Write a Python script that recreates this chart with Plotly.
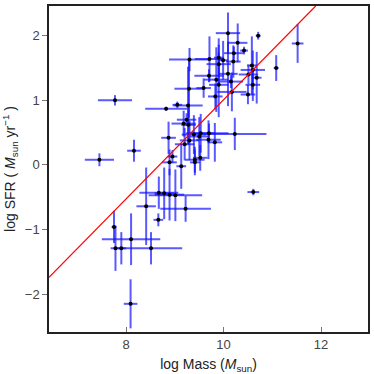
import plotly.graph_objects as go

log_mass = [10.09, 10.71, 10.29, 10.42, 10.21, 11.52, 9.30, 9.71, 9.90, 9.99,
            10.20, 9.90, 10.58, 10.60, 11.08, 9.70, 10.09, 10.51, 9.85, 10.15,
            10.68, 9.90, 10.60, 9.29, 9.59, 9.83, 10.17, 10.50, 9.05, 9.27,
            8.82, 9.24, 9.18, 9.28, 8.87, 9.39, 9.53, 9.70, 10.23, 9.20,
            9.30, 9.50, 9.69, 9.82, 8.16, 8.95, 8.89, 9.41, 9.52, 9.41,
            9.13, 8.67, 8.78, 8.89, 9.01, 8.41, 9.22, 10.61, 7.45, 8.66,
            7.75, 7.77, 7.78, 7.90, 8.10, 8.51, 8.09]
log_sfr = [2.04, 2.00, 1.89, 1.77, 1.73, 1.88, 1.63, 1.64, 1.66, 1.62,
           1.60, 1.56, 1.54, 1.47, 1.50, 1.38, 1.41, 1.40, 1.32, 1.29,
           1.35, 1.24, 1.24, 1.18, 1.19, 1.06, 1.13, 1.09, 0.93, 0.92,
           0.87, 0.70, 0.64, 0.62, 0.42, 0.47, 0.49, 0.49, 0.48, 0.32,
           0.38, 0.44, 0.39, 0.35, 0.22, 0.13, 0.04, 0.08, 0.11, 0.04,
           -0.02, -0.43, -0.44, -0.46, -0.47, -0.64, -0.68, -0.42, 0.08, -0.85,
           -0.96, 1.00, -1.29, -1.29, -1.15, -1.29, -2.15]
mass_err = [0.25, 0.05, 0.20, 0.08, 0.20, 0.12, 0.42, 0.30, 0.10, 0.10,
            0.15, 0.25, 0.10, 0.25, 0.05, 0.30, 0.20, 0.20, 0.25, 0.25,
            0.10, 0.20, 0.15, 0.30, 0.15, 0.15, 0.30, 0.15, 0.10, 0.30,
            0.43, 0.20, 0.25, 0.15, 0.15, 0.25, 0.30, 0.40, 0.65, 0.20,
            0.20, 0.20, 0.25, 0.15, 0.14, 0.10, 0.15, 0.20, 0.15, 0.10,
            0.10, 0.40, 0.20, 0.30, 0.55, 0.20, 0.52, 0.12, 0.30, 0.10,
            0.05, 0.35, 0.10, 0.10, 0.60, 0.64, 0.14]
sfr_err = [0.32, 0.06, 0.30, 0.06, 0.10, 0.30, 0.18, 0.35, 0.30, 0.30,
           0.25, 0.30, 0.45, 0.30, 0.20, 0.10, 0.50, 0.15, 0.50, 0.10,
           0.40, 0.50, 0.25, 0.45, 0.15, 0.20, 0.30, 0.15, 0.05, 0.60,
           0.03, 0.10, 0.20, 0.30, 0.25, 0.30, 0.30, 0.15, 0.25, 0.25,
           0.30, 0.30, 0.30, 0.30, 0.17, 0.10, 0.20, 0.20, 0.20, 0.20,
           0.35, 0.25, 0.40, 0.40, 0.40, 0.60, 0.20, 0.05, 0.10, 0.10,
           0.25, 0.08, 0.35, 0.25, 0.40, 0.25, 0.38]

FIT_SLOPE = 0.767
FIT_INTERCEPT = -6.66

x_range = [6.415, 12.965]
y_range = [-2.586, 2.46]

fit_x = [x_range[0], (y_range[1] - FIT_INTERCEPT) / FIT_SLOPE]
fit_y = [FIT_SLOPE * v + FIT_INTERCEPT for v in fit_x]

fig = go.Figure()
fig.add_trace(go.Scatter(
    x=log_mass, y=log_sfr, mode="markers",
    marker=dict(color="black", size=4),
    error_x=dict(type="data", array=mass_err, color="rgba(20,20,255,0.7)", thickness=2, width=0),
    error_y=dict(type="data", array=sfr_err, color="rgba(20,20,255,0.7)", thickness=2, width=0),
    showlegend=False,
))
fig.add_trace(go.Scatter(
    x=fit_x, y=fit_y, mode="lines",
    line=dict(color="red", width=1.2), showlegend=False,
))

axis_common = dict(showline=True, mirror=True, linecolor="#222", linewidth=1.5,
                   showgrid=False, zeroline=False, ticklen=5, tickcolor="#777",
                   tickfont=dict(family="Liberation Sans", size=13, color="#444"))
fig.update_layout(
    width=374, height=374,
    margin=dict(l=49, r=4, t=4, b=42),
    plot_bgcolor="white", paper_bgcolor="white",
    font=dict(family="Liberation Sans", color="#222"),
    xaxis=dict(range=x_range, tickvals=[8, 10, 12], ticks="inside",
               title=dict(text="log Mass (<i>M</i><sub>sun</sub>)", font=dict(size=14), standoff=8),
               **axis_common),
    yaxis=dict(range=y_range, tickvals=[-2, -1, 0, 1, 2], ticks="outside",
               title=dict(text="log SFR ( <i>M</i><sub>sun</sub> yr<sup>−1</sup> )", font=dict(size=14), standoff=6),
               **axis_common),
)
fig.write_html("out.html",
               config={"displayModeBar": False},
               post_script="document.body.style.margin='0';document.body.style.overflow='hidden';")
